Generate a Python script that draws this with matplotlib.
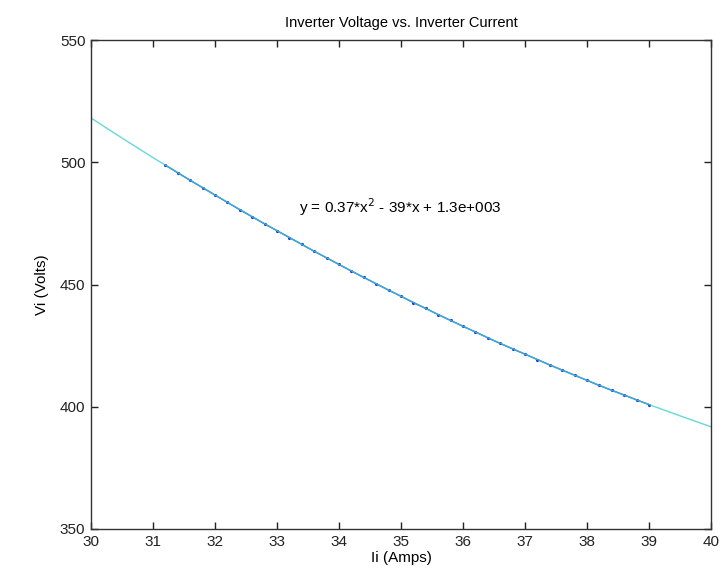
import matplotlib
matplotlib.use("Agg")
import matplotlib.pyplot as plt

# Fitted curve values
fit_x = [30.0, 30.5, 31.0, 31.5, 32.0, 32.5, 33.0, 33.5, 34.0, 34.5, 35.0,
         35.5, 36.0, 36.5, 37.0, 37.5, 38.0, 38.5, 39.0, 39.5, 40.0]
fit_y = [518.1, 509.9, 501.9, 494.2, 486.6, 479.2, 472.0, 465.0, 458.2, 451.6, 445.2,
         438.9, 432.9, 427.1, 421.5, 416.0, 410.8, 405.7, 400.9, 396.3, 391.8]

# Measured data points (blue)
data_x = [31.2, 31.4, 31.6, 31.8, 32.0, 32.2, 32.4, 32.6, 32.8, 33.0,
          33.2, 33.4, 33.6, 33.8, 34.0, 34.2, 34.4, 34.6, 34.8, 35.0,
          35.2, 35.4, 35.6, 35.8, 36.0, 36.2, 36.4, 36.6, 36.8, 37.0,
          37.2, 37.4, 37.6, 37.8, 38.0, 38.2, 38.4, 38.6, 38.8, 39.0]
data_y = [498.8, 495.7, 492.6, 489.6, 486.6, 483.6, 480.6, 477.7, 474.8, 472.0,
          469.2, 466.4, 463.6, 460.9, 458.2, 455.5, 452.9, 450.3, 447.7, 445.2,
          442.6, 440.2, 437.7, 435.3, 432.9, 430.6, 428.2, 425.9, 423.7, 421.5,
          419.3, 417.1, 415.0, 412.9, 410.8, 408.7, 406.7, 404.8, 402.8, 400.9]

x_ticks = [30, 31, 32, 33, 34, 35, 36, 37, 38, 39, 40]
y_ticks = [350, 400, 450, 500, 550]

plt.rcParams['font.family'] = ['Liberation Sans', 'DejaVu Sans']

fig = plt.figure(figsize=(7.21, 5.82), dpi=100)
ax = fig.add_axes([91/721, 1 - 529/582, (711 - 91)/721, (529 - 40)/582])

ax.plot(data_x, data_y, linestyle='-', linewidth=1.0, marker='.',
        markersize=2.5, color='#2233dd')
ax.plot(fit_x, fit_y, color='#3dd0d0', linewidth=1.0, alpha=0.8)

ax.set_xlim(30, 40)
ax.set_ylim(350, 550)
ax.set_xticks(x_ticks)
ax.set_yticks(y_ticks)
ax.tick_params(direction='in', length=5, width=1, top=True, right=True,
               labelsize=11, colors='#222222', pad=4)
for s in ax.spines.values():
    s.set_color('#333333')
    s.set_linewidth(1.0)

ax.set_title('Inverter Voltage vs. Inverter Current', fontsize=10.5, pad=9)
ax.set_xlabel('Ii (Amps)', fontsize=11, labelpad=2)
ax.set_ylabel('Vi (Volts)', fontsize=11, labelpad=8)

ax.text(33.35, 481.5, r'y = 0.37*x$^{2}$ - 39*x + 1.3e+003', fontsize=11,
        va='center', ha='left', color='black')

fig.savefig('out.png', dpi=100)
